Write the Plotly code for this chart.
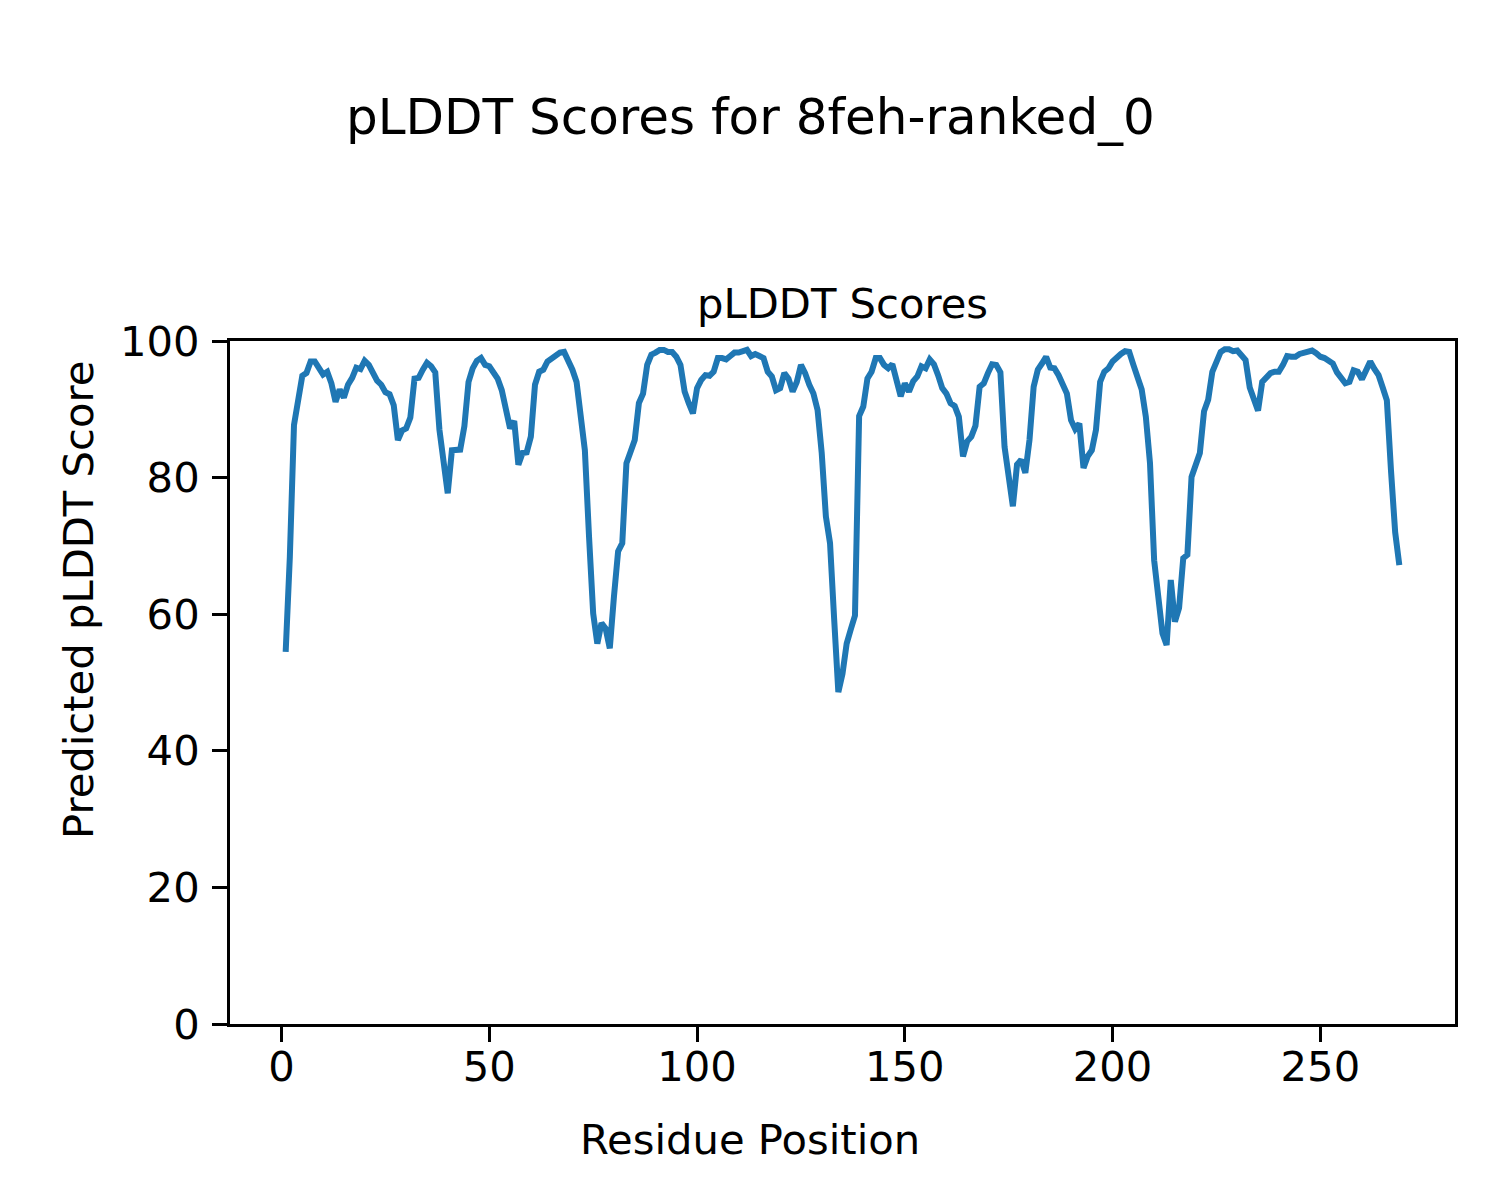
import plotly.graph_objects as go

# Residue positions 1..269
residues = list(range(1, 270))

plddt = [
    54.5, 68.4, 87.7, 90.9, 94.9, 95.3, 97.0, 97.0, 96.0, 95.1,
    95.5, 93.8, 91.1, 92.9, 91.7, 93.6, 94.6, 96.1, 95.9, 97.1,
    96.5, 95.4, 94.2, 93.6, 92.5, 92.2, 90.6, 85.5, 86.9, 87.2,
    88.8, 94.5, 94.6, 95.8, 96.8, 96.3, 95.4, 87.0, 82.6, 77.7,
    84.0, 84.0, 84.1, 87.5, 94.0, 96.0, 97.1, 97.5, 96.5, 96.3,
    95.3, 94.5, 92.8, 89.4, 87.2, 88.3, 81.9, 83.6, 83.7, 86.0,
    93.6, 95.5, 95.8, 97.0, 97.5, 98.0, 98.3, 98.4, 97.2, 95.8,
    94.0, 88.9, 84.0, 71.4, 60.1, 55.7, 58.7, 57.9, 55.0, 62.6,
    69.2, 70.4, 82.1, 83.8, 85.5, 90.9, 92.3, 96.5, 98.0, 98.3,
    98.7, 98.7, 98.4, 98.4, 97.7, 96.5, 92.6, 90.9, 89.4, 93.1,
    94.3, 95.0, 94.9, 95.5, 97.5, 97.5, 97.3, 97.8, 98.3, 98.3,
    98.4, 98.7, 97.8, 98.1, 97.8, 97.5, 95.5, 94.8, 92.8, 93.1,
    95.3, 94.5, 92.6, 94.0, 96.5, 95.3, 93.6, 92.3, 89.9, 83.6,
    74.3, 70.4, 59.2, 48.6, 51.3, 55.7, 57.8, 59.8, 89.0, 90.4,
    94.5, 95.5, 97.5, 97.5, 96.5, 96.0, 96.6, 94.5, 91.9, 93.8,
    92.6, 94.1, 94.8, 96.3, 96.0, 97.3, 96.6, 95.0, 93.1, 92.3,
    90.9, 90.5, 88.9, 83.1, 85.3, 86.0, 87.6, 93.3, 93.8, 95.3,
    96.6, 96.5, 95.4, 84.5, 80.2, 75.8, 81.9, 82.6, 80.7, 85.5,
    93.3, 95.8, 96.7, 97.7, 96.1, 96.0, 95.0, 93.8, 92.3, 88.4,
    87.1, 87.9, 81.4, 83.1, 84.0, 87.0, 94.0, 95.5, 96.0, 97.0,
    97.7, 98.1, 98.5, 98.4, 96.5, 94.3, 92.9, 88.9, 82.1, 67.9,
    61.8, 57.2, 55.5, 65.0, 58.9, 60.9, 68.2, 68.7, 80.1, 81.8,
    83.6, 89.7, 91.4, 95.5, 97.2, 98.4, 98.8, 98.8, 98.5, 98.6,
    97.9, 97.2, 93.2, 91.6, 89.8, 94.0, 94.7, 95.3, 95.5, 95.5,
    96.5, 97.8, 97.7, 97.7, 98.1, 98.3, 98.3, 98.6, 98.2, 97.7,
    97.5, 97.2, 96.7, 95.4, 94.4, 93.8, 94.0, 95.7, 95.5, 94.4,
    95.7, 97.0, 95.9, 95.0, 93.2, 91.3, 81.0, 72.0, 67.2,
]

x_ticks = [0, 50, 100, 150, 200, 250]
y_ticks = [0, 20, 40, 60, 80, 100]

suptitle = "pLDDT Scores for 8feh-ranked_0"
axes_title = "pLDDT Scores"
x_label = "Residue Position"
y_label = "Predicted pLDDT Score"

FONT = "DejaVu Sans"
W, H = 1500, 1200
OFF = 8  # page body margin offset
# target plot area on screen: x 230..1455, y 341..1024
L = 230 - OFF
T = 341 - OFF
R = (W + OFF) - 1455
B = (H + OFF) - 1024
pw, ph = 1455 - 230, 1024 - 341


def px(xp):
    return (xp - 230) / pw


def py(yp):
    return (1024 - yp) / ph


fig = go.Figure()
fig.add_trace(go.Scatter(
    x=residues, y=plddt, mode="lines",
    line=dict(color="#1f77b4", width=6),
    showlegend=False,
))

span = residues[-1] - residues[0]
axis_common = dict(
    showline=True, linecolor="black", linewidth=3, mirror=True,
    ticks="outside", ticklen=15, tickwidth=3, tickcolor="black",
    showgrid=False, zeroline=False,
    tickfont=dict(family=FONT, size=41.7, color="black"),
)
fig.update_xaxes(range=[residues[0] - 0.05 * span, residues[-1] + 0.05 * span],
                 tickvals=x_ticks, ticklabelstandoff=-11, **axis_common)
fig.update_yaxes(range=[0, 100], tickvals=y_ticks, ticklabelstandoff=4, **axis_common)

fig.update_layout(
    width=W, height=H,
    margin=dict(l=L, r=R, t=T, b=B, pad=0),
    paper_bgcolor="white", plot_bgcolor="white",
    font=dict(family=FONT, color="black"),
    annotations=[
        dict(text=suptitle, x=px(750), y=py(117), xref="paper", yref="paper",
             showarrow=False, xanchor="center", yanchor="middle",
             font=dict(family=FONT, size=50, color="black")),
        dict(text=axes_title, x=0.5, y=py(303), xref="paper", yref="paper",
             showarrow=False, xanchor="center", yanchor="middle",
             font=dict(family=FONT, size=41.7, color="black")),
        dict(text=x_label, x=px(750), y=py(1139), xref="paper", yref="paper",
             showarrow=False, xanchor="center", yanchor="middle",
             font=dict(family=FONT, size=41.7, color="black")),
        dict(text=y_label, x=px(78), y=py(600), xref="paper", yref="paper",
             showarrow=False, xanchor="center", yanchor="middle", textangle=-90,
             font=dict(family=FONT, size=41.7, color="black")),
    ],
)

fig.write_html("out.html")
